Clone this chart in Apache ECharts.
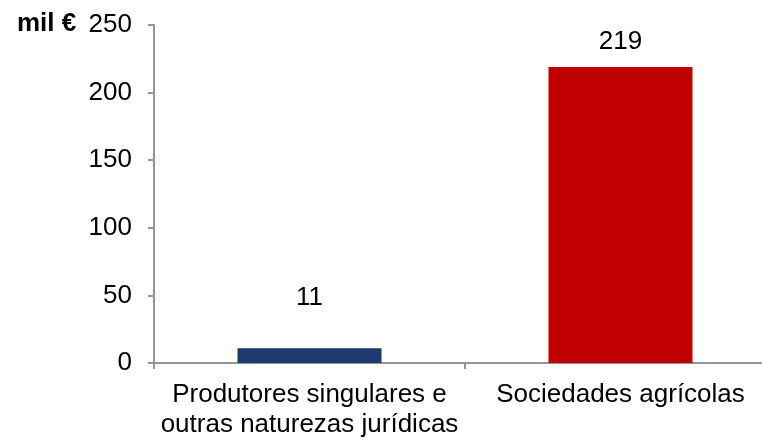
<!DOCTYPE html>
<html>
<head>
<meta charset="utf-8">
<script src="https://cdn.jsdelivr.net/npm/echarts@6/dist/echarts.min.js"></script>
<style>
  html, body { margin: 0; padding: 0; background: #fff; overflow: hidden; }
  #chart { width: 762px; height: 439px; }
</style>
</head>
<body>
<div id="chart"></div>
<script>
  const categories = ['Produtores singulares e\noutras naturezas jurídicas', 'Sociedades agrícolas'];
  const values = [11, 219];
  const barColors = ['#1d3a6e', '#c00000'];
  const unitLabel = 'mil €';

  const font = 'Liberation Sans, Arial, sans-serif';
  const axisGray = '#969696';
  const myChart = echarts.init(document.getElementById('chart'));

  myChart.setOption({
    animation: false,
    grid: {
      left: 154,
      top: 25,
      width: 622,
      height: 338,
      // the axis runs past the right edge in the reference, so don't squeeze it in
      outerBoundsMode: 'none'
    },
    graphic: [{
      type: 'text',
      left: 17,
      top: 11,
      style: {
        text: unitLabel,
        font: 'bold 26px ' + font,
        fill: '#000'
      }
    }],
    xAxis: {
      type: 'category',
      data: categories,
      axisLine: {
        lineStyle: {color: axisGray, width: 2}
      },
      axisTick: {
        show: true,
        length: 6,
        lineStyle: {color: axisGray, width: 2}
      },
      axisLabel: {
        color: '#000',
        fontFamily: font,
        fontSize: 26,
        lineHeight: 30,
        margin: 17,
        interval: 0
      }
    },
    yAxis: {
      type: 'value',
      min: 0,
      max: 250,
      interval: 50,
      splitLine: {show: false},
      axisLine: {
        show: true,
        lineStyle: {color: axisGray, width: 2}
      },
      axisTick: {
        show: true,
        length: 6,
        lineStyle: {color: axisGray, width: 2}
      },
      axisLabel: {
        color: '#000',
        fontFamily: font,
        fontSize: 26,
        margin: 22
      }
    },
    series: [{
      type: 'bar',
      barWidth: 144,
      data: values.map(function (v, i) {
        return {
          value: v,
          itemStyle: {color: barColors[i]},
          label: {distance: i === 0 ? 37 : 12}
        };
      }),
      label: {
        show: true,
        position: 'top',
        color: '#000',
        fontFamily: font,
        fontSize: 26
      }
    }]
  });
</script>
</body>
</html>
